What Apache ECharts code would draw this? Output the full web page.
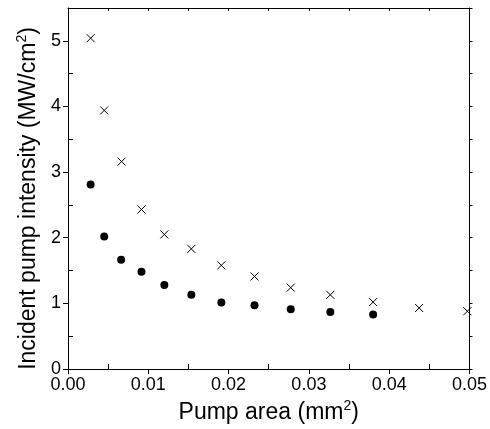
<!DOCTYPE html>
<html>
<head>
<meta charset="utf-8">
<script src="https://cdn.jsdelivr.net/npm/echarts@6/dist/echarts.min.js"></script>
<style>html,body{margin:0;padding:0;background:#fff}#c{width:490px;height:429px}</style>
</head>
<body>
<div id="c"></div>
<script>
// Data
var crossArea = [0.00282, 0.00451, 0.00667, 0.00915, 0.0120, 0.01536, 0.0191, 0.02323, 0.02774, 0.03267, 0.0380, 0.04373, 0.04973];
var crossIntensity = [5.04, 3.94, 3.16, 2.43, 2.05, 1.83, 1.58, 1.41, 1.24, 1.13, 1.02, 0.93, 0.88];
var dotArea = [0.00282, 0.00451, 0.00662, 0.00915, 0.0120, 0.01536, 0.0191, 0.02323, 0.02774, 0.03267, 0.0380];
var dotIntensity = [2.81, 2.02, 1.665, 1.48, 1.28, 1.13, 1.015, 0.97, 0.91, 0.87, 0.83];
var xTicks = [0, 0.01, 0.02, 0.03, 0.04, 0.05];
var xMinorTicks = [0.005, 0.015, 0.025, 0.035, 0.045];
var yTicks = [0, 1, 2, 3, 4, 5];
var yMinorTicks = [0.5, 1.5, 2.5, 3.5, 4.5];

var FONT = 'Liberation Sans, Arial, sans-serif';
var crossData = crossArea.map(function (x, i) { return [x, crossIntensity[i]]; });
var dotData = dotArea.map(function (x, i) { return [x, dotIntensity[i]]; });
var lineStyle = { color: '#000', width: 1 };

var chart = echarts.init(document.getElementById('c'), null, { renderer: 'canvas' });
chart.setOption({
  animation: false,
  backgroundColor: '#fff',
  grid: { left: 68, right: 20, top: 8, bottom: 60, containLabel: false },
  xAxis: [
    {
      type: 'value', position: 'bottom', min: 0, max: 0.05, interval: 0.01,
      axisLine: { show: true, onZero: false, lineStyle: lineStyle },
      axisTick: { show: true, inside: false, length: 5, lineStyle: lineStyle, customValues: xTicks },
      axisLabel: { show: true, customValues: xTicks, color: '#000', fontFamily: FONT, fontSize: 18, margin: 7,
        formatter: function (v) { return v.toFixed(2); } },
      splitLine: { show: false },
      name: '{a|Pump area (mm}{s|2}{a|)}', nameLocation: 'middle', nameGap: 30,
      nameTextStyle: { rich: {
        a: { fontFamily: FONT, fontSize: 23, color: '#000', lineHeight: 25, verticalAlign: 'bottom' },
        s: { fontFamily: FONT, fontSize: 14, color: '#000', lineHeight: 25, verticalAlign: 'top' }
      } }
    },
    {
      type: 'value', position: 'bottom', offset: 0, min: 0, max: 0.05, interval: 0.01,
      axisLine: { show: false, onZero: false },
      axisTick: { show: true, inside: true, length: 5, lineStyle: lineStyle, customValues: xMinorTicks },
      axisLabel: { show: false }, splitLine: { show: false }
    },
    {
      type: 'value', position: 'top', offset: 0, min: 0, max: 0.05, interval: 0.005,
      axisLine: { show: true, onZero: false, lineStyle: lineStyle },
      axisTick: { show: true, inside: true, length: 3, lineStyle: lineStyle },
      axisLabel: { show: false }, splitLine: { show: false }
    }
  ],
  yAxis: [
    {
      type: 'value', position: 'left', min: 0, max: 5.5, interval: 1,
      axisLine: { show: true, onZero: false, lineStyle: lineStyle },
      axisTick: { show: true, inside: false, length: 5, lineStyle: lineStyle, customValues: yTicks },
      axisLabel: { show: true, customValues: yTicks, color: '#000', fontFamily: FONT, fontSize: 18, margin: 7 },
      splitLine: { show: false },
      name: '{a|Incident pump intensity (MW/cm}{s|2}{a|)}', nameLocation: 'middle', nameGap: 27, nameRotate: 90,
      nameTextStyle: { padding: [0, 20, 0, 0], rich: {
        a: { fontFamily: FONT, fontSize: 23, color: '#000', lineHeight: 25, verticalAlign: 'bottom' },
        s: { fontFamily: FONT, fontSize: 14, color: '#000', lineHeight: 25, verticalAlign: 'top' }
      } }
    },
    {
      type: 'value', position: 'left', offset: 0, min: 0, max: 5.5, interval: 1,
      axisLine: { show: false, onZero: false },
      axisTick: { show: true, inside: true, length: 5, lineStyle: lineStyle, customValues: yMinorTicks },
      axisLabel: { show: false }, splitLine: { show: false }
    },
    {
      type: 'value', position: 'right', offset: 0, min: 0, max: 5.5, interval: 0.5,
      axisLine: { show: true, onZero: false, lineStyle: lineStyle },
      axisTick: { show: true, inside: false, length: 3, lineStyle: lineStyle },
      axisLabel: { show: false }, splitLine: { show: false }
    }
  ],
  series: [
    {
      type: 'scatter', name: 'cross', xAxisIndex: 0, yAxisIndex: 0, data: crossData,
      symbol: 'path://M0,0L10,10M10,0L0,10', symbolSize: 8,
      itemStyle: { color: 'rgba(0,0,0,0)', borderColor: '#000', borderWidth: 1, opacity: 1 }
    },
    {
      type: 'scatter', name: 'dot', xAxisIndex: 0, yAxisIndex: 0, data: dotData,
      symbol: 'circle', symbolSize: 8,
      itemStyle: { color: '#000', opacity: 1 }
    }
  ]
});
</script>
</body>
</html>
